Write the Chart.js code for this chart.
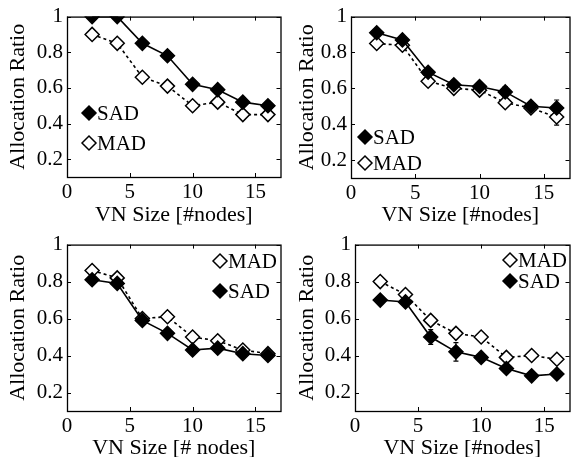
<!DOCTYPE html>
<html>
<head>
<meta charset="utf-8">
<script src="https://cdn.jsdelivr.net/npm/chart.js@4.4.1/dist/chart.umd.min.js"></script>
<style>
  body { margin: 0; background: #fff; font-family: 'Liberation Serif', serif; }
  #wrap { position: relative; width: 578px; height: 457px; }
  #wrap canvas { position: absolute; }
</style>
</head>
<body>
<div id="wrap">
  <canvas id="tl" width="289" height="228" style="left:0;top:0"></canvas>
  <canvas id="tr" width="289" height="228" style="left:289px;top:0"></canvas>
  <canvas id="bl" width="289" height="229" style="left:0;top:228px"></canvas>
  <canvas id="br" width="289" height="229" style="left:289px;top:228px"></canvas>
</div>
<script>
// ── Data ─────────────────────────────────────────────────────────────────────

const vnSizes = [2, 4, 6, 8, 10, 12, 14, 16];
const xTicks = [0, 5, 10, 15];
const yTicks = [0.2, 0.4, 0.6, 0.8, 1];

const tlSad = [1.0, 1.0, 0.85, 0.78, 0.62, 0.59, 0.52, 0.50];
const tlMad = [0.90, 0.85, 0.66, 0.61, 0.50, 0.52, 0.45, 0.45];
const tlSadErr = [0, 0, 0, 0, 0, 0, 0, 0];
const tlMadErr = [0, 0, 0, 0, 0, 0, 0, 0];

const trSad = [0.91, 0.87, 0.69, 0.62, 0.61, 0.58, 0.50, 0.49];
const trMad = [0.85, 0.84, 0.64, 0.60, 0.59, 0.52, 0.49, 0.44];
const trSadErr = [0.02, 0.02, 0.01, 0.01, 0.01, 0.03, 0.02, 0.045];
const trMadErr = [0.02, 0.02, 0.01, 0.01, 0.01, 0.02, 0.02, 0.045];

const blSad = [0.81, 0.79, 0.59, 0.52, 0.43, 0.44, 0.41, 0.40];
const blMad = [0.86, 0.82, 0.60, 0.61, 0.50, 0.48, 0.43, 0.41];
const blSadErr = [0.01, 0.01, 0.01, 0.02, 0.01, 0.01, 0.02, 0.01];
const blMadErr = [0.02, 0.01, 0.01, 0.01, 0.01, 0.01, 0.01, 0.01];

const brSad = [0.70, 0.69, 0.50, 0.42, 0.39, 0.33, 0.29, 0.30];
const brMad = [0.80, 0.73, 0.59, 0.52, 0.50, 0.39, 0.40, 0.38];
const brSadErr = [0.01, 0.01, 0.04, 0.05, 0.01, 0.01, 0.01, 0.01];
const brMadErr = [0.01, 0.01, 0.01, 0.01, 0.01, 0.01, 0.01, 0.01];

// ── Helpers ──────────────────────────────────────────────────────────────────

const FONT = "'Liberation Serif', 'Times New Roman', serif";

function diamond(ctx, x, y, r, filled) {
  ctx.beginPath();
  ctx.moveTo(x - r, y);
  ctx.lineTo(x, y - r);
  ctx.lineTo(x + r, y);
  ctx.lineTo(x, y + r);
  ctx.closePath();
  ctx.fillStyle = filled ? '#000' : '#fff';
  ctx.fill();
  ctx.lineWidth = 1.5;
  ctx.strokeStyle = '#000';
  ctx.stroke();
}

// box + inward ticks on all four sides
const matlabBox = {
  id: 'matlabBox',
  afterDraw(chart) {
    const { ctx, chartArea: a, scales } = chart;
    ctx.save();
    ctx.strokeStyle = '#000';
    ctx.lineWidth = 1.3;
    ctx.strokeRect(a.left + 0.5, a.top + 0.5, a.right - a.left, a.bottom - a.top);
    const t = 4;
    ctx.lineWidth = 1;
    ctx.beginPath();
    scales.x.ticks.forEach(tk => {
      const px = Math.round(scales.x.getPixelForValue(tk.value)) + 0.5;
      ctx.moveTo(px, a.bottom); ctx.lineTo(px, a.bottom - t);
      ctx.moveTo(px, a.top); ctx.lineTo(px, a.top + t);
    });
    scales.y.ticks.forEach(tk => {
      const py = Math.round(scales.y.getPixelForValue(tk.value)) + 0.5;
      ctx.moveTo(a.left, py); ctx.lineTo(a.left + t, py);
      ctx.moveTo(a.right, py); ctx.lineTo(a.right - t, py);
    });
    ctx.stroke();
    ctx.restore();
  }
};

// vertical error bars from the errs arrays
const errorBars = {
  id: 'errorBars',
  beforeDatasetsDraw(chart) {
    const { ctx, scales } = chart;
    ctx.save();
    ctx.strokeStyle = '#000';
    ctx.lineWidth = 1.2;
    chart.data.datasets.forEach(ds => {
      ds.data.forEach((p, i) => {
        const e = ds.errs[i];
        if (!e) return;
        const px = scales.x.getPixelForValue(p.x);
        const y1 = scales.y.getPixelForValue(p.y - e);
        const y2 = scales.y.getPixelForValue(p.y + e);
        ctx.beginPath();
        ctx.moveTo(px, y1); ctx.lineTo(px, y2);
        ctx.moveTo(px - 2.5, y1); ctx.lineTo(px + 2.5, y1);
        ctx.moveTo(px - 2.5, y2); ctx.lineTo(px + 2.5, y2);
        ctx.stroke();
      });
    });
    ctx.restore();
  }
};

// legend drawn inside the axes
const innerLegend = {
  id: 'innerLegend',
  afterDraw(chart, args, opts) {
    const { ctx } = chart;
    ctx.save();
    ctx.font = '21px ' + FONT;
    ctx.textBaseline = 'middle';
    opts.order.forEach((di, k) => {
      const ds = chart.data.datasets[di];
      const y = opts.y + k * opts.gap;
      diamond(ctx, opts.x, y, 7, ds.pointBackgroundColor === '#000');
      ctx.fillStyle = '#000';
      ctx.fillText(ds.label, opts.x + 8, y + 1);
    });
    ctx.restore();
  }
};

function makePanel(id, sad, mad, sadErr, madErr, box, legend, xTitle) {
  const pts = arr => arr.map((v, i) => ({ x: vnSizes[i], y: v }));
  return new Chart(document.getElementById(id), {
    type: 'line',
    data: {
      datasets: [
        {
          label: 'SAD',
          data: pts(sad),
          errs: sadErr,
          borderColor: '#000',
          borderWidth: 1.6,
          pointStyle: 'rectRot',
          pointRadius: 7,
          pointBorderWidth: 1.5,
          pointBackgroundColor: '#000',
          pointBorderColor: '#000',
          tension: 0,
        },
        {
          label: 'MAD',
          data: pts(mad),
          errs: madErr,
          borderColor: '#000',
          borderWidth: 1.6,
          borderDash: [3, 3],
          pointStyle: 'rectRot',
          pointRadius: 7,
          pointBorderWidth: 1.5,
          pointBackgroundColor: '#fff',
          pointBorderColor: '#000',
          tension: 0,
        }
      ]
    },
    options: {
      responsive: false,
      animation: false,
      layout: { padding: { top: box.padTop, right: box.padRight, left: 0, bottom: 0 } },
      plugins: {
        legend: { display: false },
        tooltip: { enabled: false },
        innerLegend: legend,
      },
      scales: {
        x: {
          type: 'linear',
          min: 0,
          max: 17,
          afterBuildTicks: s => { s.ticks = xTicks.map(v => ({ value: v })); },
          afterFit: s => { s.height = box.xHeight; },
          grid: { display: false, drawTicks: false },
          border: { display: false },
          ticks: { color: '#000', font: { family: FONT, size: 21 }, padding: 3, maxRotation: 0 },
          title: {
            display: true, text: xTitle, color: '#000',
            font: { family: FONT, size: 22 }, padding: { top: 0, bottom: box.xTitlePad }
          }
        },
        y: {
          min: 0.1,
          max: 1,
          afterBuildTicks: s => { s.ticks = yTicks.map(v => ({ value: v })); },
          afterFit: s => { s.width = box.yWidth; },
          grid: { display: false, drawTicks: false },
          border: { display: false },
          ticks: { color: '#000', font: { family: FONT, size: 21 }, padding: 4, callback: v => String(v) },
          title: {
            display: true, text: 'Allocation Ratio', color: '#000',
            font: { family: FONT, size: 22 }, padding: { top: 5, bottom: 0 }
          }
        }
      }
    },
    plugins: [errorBars, matlabBox, innerLegend]
  });
}

function drawAll() {
  makePanel('tl', tlSad, tlMad, tlSadErr, tlMadErr,
    { padTop: 10, padRight: 1, yWidth: 67, xHeight: 51, xTitlePad: 0 },
    { x: 89, y: 113, gap: 30, order: [0, 1] }, 'VN Size [#nodes]');
  makePanel('tr', trSad, trMad, trSadErr, trMadErr,
    { padTop: 8, padRight: 4, yWidth: 62, xHeight: 50, xTitlePad: 0 },
    { x: 76, y: 137, gap: 26, order: [0, 1] }, 'VN Size [#nodes]');
  makePanel('bl', blSad, blMad, blSadErr, blMadErr,
    { padTop: 14, padRight: 1, yWidth: 67, xHeight: 46, xTitlePad: -4 },
    { x: 220, y: 33, gap: 30, order: [1, 0] }, 'VN Size [# nodes]');
  makePanel('br', brSad, brMad, brSadErr, brMadErr,
    { padTop: 14, padRight: 4, yWidth: 66, xHeight: 46, xTitlePad: -4 },
    { x: 221, y: 32, gap: 21, order: [1, 0] }, 'VN Size [#nodes]');
}

if (document.fonts && document.fonts.load) {
  Promise.all([
    document.fonts.load("21px 'Liberation Serif'"),
    document.fonts.load("22px 'Liberation Serif'")
  ]).then(drawAll, drawAll);
} else {
  drawAll();
}
</script>
</body>
</html>
